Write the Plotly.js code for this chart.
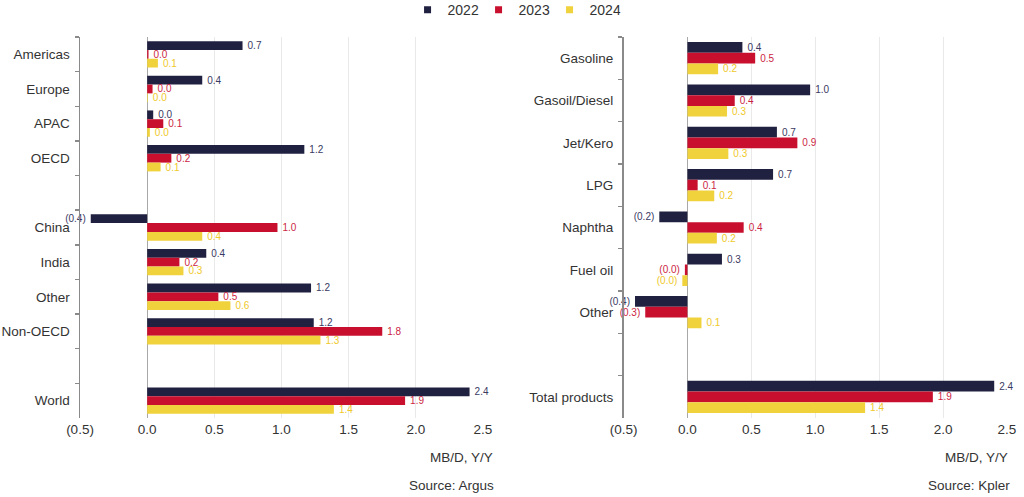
<!DOCTYPE html>
<html>
<head>
<meta charset="utf-8">
<script src="https://cdn.plot.ly/plotly-3.0.1.min.js"></script>
<style>html,body{margin:0;padding:0;background:#fff;}#chart{width:1024px;height:497px;}</style>
</head>
<body>
<div id="chart"></div>
<script>
// ---- Data ----
var years = ["2022", "2023", "2024"];
var regionCats = ["Americas", "Europe", "APAC", "OECD", " ", "China", "India", "Other", "Non-OECD", "  ", "World"];
var region2022 = [0.71, 0.41, 0.045, 1.17, null, -0.42, 0.44, 1.22, 1.24, null, 2.40];
var region2023 = [0.01, 0.04, 0.12, 0.18, null, 0.97, 0.24, 0.53, 1.75, null, 1.92];
var region2024 = [0.08, 0.005, 0.02, 0.10, null, 0.41, 0.27, 0.62, 1.29, null, 1.39];

var productCats = ["Gasoline", "Gasoil/Diesel", "Jet/Kero", "LPG", "Naphtha", "Fuel oil", "Other", " ", "Total products"];
var product2022 = [0.43, 0.96, 0.70, 0.67, -0.22, 0.27, -0.41, null, 2.40];
var product2023 = [0.53, 0.37, 0.86, 0.08, 0.44, -0.02, -0.33, null, 1.92];
var product2024 = [0.24, 0.31, 0.32, 0.21, 0.23, -0.04, 0.11, null, 1.39];

var xTickVals = [-0.5, 0, 0.5, 1.0, 1.5, 2.0, 2.5];
var xTickText = ["(0.5)", "0.0", "0.5", "1.0", "1.5", "2.0", "2.5"];

// ---- Styling ----
var barColors = ["#202040", "#c8102e", "#f0d23c"];
var textColors = ["#3a3a62", "#cc1f44", "#efc92a"];
var FONT = "Liberation Sans, Arial, Helvetica, sans-serif";

function fmt(v) {
  if (v === null) return "";
  return v < 0 ? "(" + Math.abs(v).toFixed(1) + ")\u2009" : "\u2009" + v.toFixed(1);
}

function barTrace(vals, cats, i, xa, ya) {
  return {
    type: "bar", orientation: "h",
    x: vals, y: cats,
    xaxis: xa, yaxis: ya,
    name: years[i], legendgroup: years[i], showlegend: false,
    marker: {color: barColors[i]},
    text: vals.map(fmt),
    textposition: "outside",
    constraintext: "none",
    cliponaxis: false,
    textfont: {family: FONT, size: 10, color: textColors[i]},
    hovertemplate: "%{y}: %{x}<extra>" + years[i] + "</extra>"
  };
}

var traces = [
  barTrace(region2022, regionCats, 0, "x", "y"),
  barTrace(region2023, regionCats, 1, "x", "y"),
  barTrace(region2024, regionCats, 2, "x", "y"),
  barTrace(product2022, productCats, 0, "x2", "y2"),
  barTrace(product2023, productCats, 1, "x2", "y2"),
  barTrace(product2024, productCats, 2, "x2", "y2")
];
// legend entries (small square markers)
years.forEach(function (yr, i) {
  traces.push({
    type: "scatter", mode: "markers", x: [null], y: [null],
    xaxis: "x", yaxis: "y",
    name: yr, legendgroup: yr, showlegend: true,
    marker: {symbol: "square", size: 7, color: barColors[i]},
    hoverinfo: "skip"
  });
});

function xAxis(domain) {
  return {
    domain: domain, range: [-0.5, 2.5], fixedrange: true,
    tickvals: xTickVals, ticktext: xTickText,
    showgrid: true, gridcolor: "#e9e9e9", gridwidth: 1,
    zeroline: true, zerolinecolor: "#a8a8a8", zerolinewidth: 1,
    showline: false, ticks: "",
    ticklabelstandoff: 2,
    tickfont: {family: FONT, size: 13.5, color: "#333"},
    automargin: false
  };
}
function yAxis(cats, anchor) {
  return {
    domain: [0.159, 0.9255], anchor: anchor,
    type: "category", categoryorder: "array", categoryarray: cats,
    autorange: "reversed", fixedrange: true,
    showgrid: false, zeroline: false,
    showline: true, linecolor: "#8a8a8a", linewidth: 1.5,
    ticks: "outside", tickson: "boundaries", ticklen: 4, tickcolor: "#8a8a8a", tickwidth: 1.5,
    ticklabelstandoff: 6,
    tickfont: {family: FONT, size: 13.5, color: "#333"},
    automargin: false
  };
}

var xa1 = xAxis([0.078125, 0.47168]); xa1.anchor = "y";
var xa2 = xAxis([0.6089, 0.9834]); xa2.anchor = "y2";

var annFont = {family: FONT, size: 13.5, color: "#333"};
var layout = {
  width: 1024, height: 497,
  margin: {l: 0, r: 0, t: 0, b: 0, autoexpand: false},
  paper_bgcolor: "#ffffff", plot_bgcolor: "#ffffff",
  font: {family: FONT, color: "#333"},
  barmode: "group", bargap: 0.24, bargroupgap: 0,
  xaxis: xa1, yaxis: yAxis(regionCats, "x"),
  xaxis2: xa2, yaxis2: yAxis(productCats, "x2"),
  showlegend: true,
  legend: {
    orientation: "h", x: 0.398, xanchor: "left", y: 1.012, yanchor: "top",
    font: {family: FONT, size: 14, color: "#333"},
    entrywidth: 26, entrywidthmode: "pixels",
    bgcolor: "rgba(0,0,0,0)", borderwidth: 0
  },
  annotations: [
    {text: "MB/D, Y/Y", xref: "paper", yref: "paper", x: 495 / 1024, y: 1 - 457 / 497, xanchor: "right", yanchor: "middle", showarrow: false, font: annFont},
    {text: "Source: Argus", xref: "paper", yref: "paper", x: 496 / 1024, y: 1 - 485 / 497, xanchor: "right", yanchor: "middle", showarrow: false, font: annFont},
    {text: "MB/D, Y/Y", xref: "paper", yref: "paper", x: 1010 / 1024, y: 1 - 457 / 497, xanchor: "right", yanchor: "middle", showarrow: false, font: annFont},
    {text: "Source: Kpler", xref: "paper", yref: "paper", x: 1012 / 1024, y: 1 - 485 / 497, xanchor: "right", yanchor: "middle", showarrow: false, font: annFont}
  ]
};

Plotly.newPlot("chart", traces, layout, {displayModeBar: false, staticPlot: true});
</script>
</body>
</html>
